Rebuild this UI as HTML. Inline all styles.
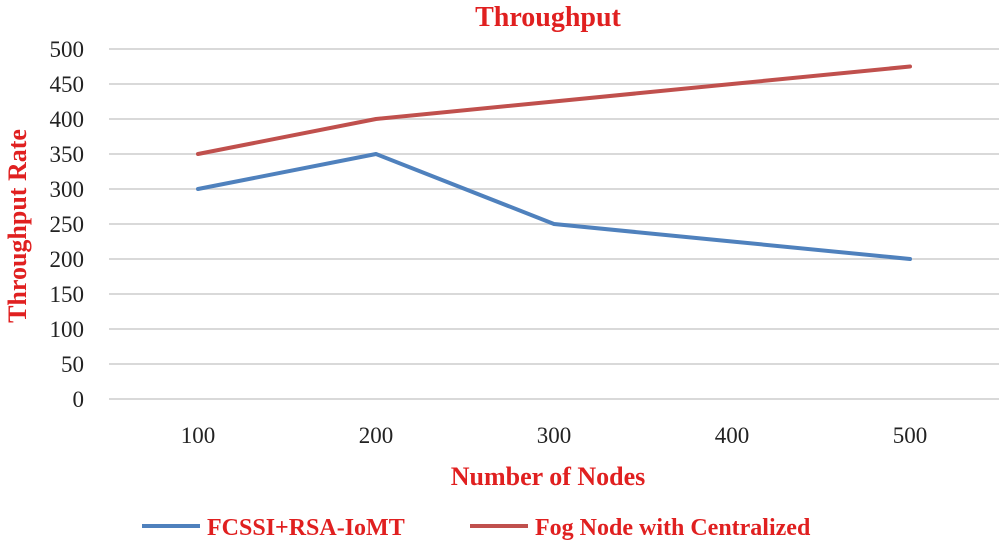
<!DOCTYPE html>
<html><head><meta charset="utf-8"><style>
body{margin:0;background:#fff;}
svg{display:block;font-family:"Liberation Serif",serif;}
</style></head><body>
<svg id="chart" width="1000" height="542" viewBox="0 0 1000 542">
<text x="548" y="26" text-anchor="middle" font-size="28" font-weight="bold" fill="#e02020">Throughput</text>
<text transform="translate(26,226) rotate(-90)" text-anchor="middle" font-size="26" font-weight="bold" fill="#e02020">Throughput Rate</text>
<text x="548" y="485" text-anchor="middle" font-size="26" font-weight="bold" fill="#e02020">Number of Nodes</text>
<g id="grid"></g><g id="series"></g>
<g>
<line x1="142" y1="526" x2="200" y2="526" stroke="#4f81bd" stroke-width="4"/>
<text x="207" y="535" font-size="24" font-weight="bold" fill="#e02020">FCSSI+RSA-IoMT</text>
<line x1="470" y1="526" x2="528" y2="526" stroke="#c0504d" stroke-width="4"/>
<text x="535" y="535" font-size="24" font-weight="bold" fill="#e02020">Fog Node with Centralized</text>
</g>
</svg>
<script>
const categories=["100","200","300","400","500"];
const fcssiValues=[300,350,250,225,200];
const fogValues=[350,400,425,450,475];
const yTicks=[0,50,100,150,200,250,300,350,400,450,500];
const NS="http://www.w3.org/2000/svg";
const x0=109,x1=999,yTop=49,yBot=399,yMax=500;
const xs=i=>x0+(x1-x0)/categories.length*(i+0.5);
const ys=v=>yBot-(v/yMax)*(yBot-yTop);
const grid=document.getElementById('grid');
yTicks.forEach(t=>{
 const l=document.createElementNS(NS,'line');
 l.setAttribute('x1',x0);l.setAttribute('x2',x1);l.setAttribute('y1',ys(t));l.setAttribute('y2',ys(t));
 l.setAttribute('stroke','#d9d9d9');l.setAttribute('stroke-width','2');
 
 
 grid.appendChild(l);
 const tx=document.createElementNS(NS,'text');
 tx.setAttribute('x',84);tx.setAttribute('y',ys(t)+8);tx.setAttribute('text-anchor','end');tx.setAttribute('font-size','23');tx.setAttribute('fill','#222');
 tx.textContent=t;
 
 
 grid.appendChild(tx);
});
categories.forEach((c,i)=>{
 const tx=document.createElementNS(NS,'text');
 tx.setAttribute('x',xs(i));tx.setAttribute('y',443);tx.setAttribute('text-anchor','middle');tx.setAttribute('font-size','23');tx.setAttribute('fill','#222');
 tx.textContent=c;
 
 
 grid.appendChild(tx);
});
const ser=document.getElementById('series');
function line(vals,color,name){
 const p=document.createElementNS(NS,'polyline');
 p.setAttribute('points',vals.map((v,i)=>xs(i)+','+ys(v)).join(' '));
 p.setAttribute('fill','none');p.setAttribute('stroke',color);p.setAttribute('stroke-width','4');p.setAttribute('stroke-linejoin','round');p.setAttribute('stroke-linecap','round');
 
 
 ser.appendChild(p);
}
line(fcssiValues,'#4f81bd','fcssi-line');
line(fogValues,'#c0504d','fog-node-line');
</script>
</body></html>
